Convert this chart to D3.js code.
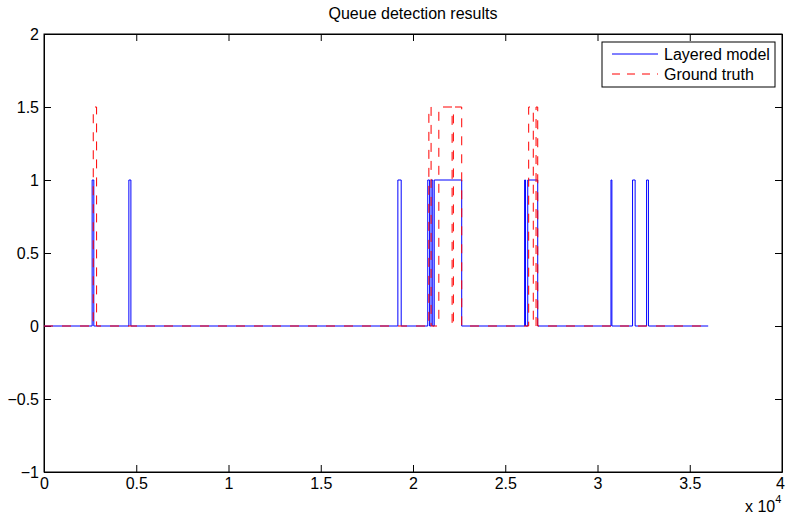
<!DOCTYPE html>
<html>
<head>
<meta charset="utf-8">
<script src="https://cdn.jsdelivr.net/npm/d3@7"></script>
<style>
  body { margin: 0; background: #fff; }
  svg text { font-family: "Liberation Sans", Arial, sans-serif; fill: #000; }
</style>
</head>
<body>
<script>
// pulse intervals (x in units of 1e4)
const modelStarts = [0.261, 0.46, 1.918, 2.08, 2.098, 2.115, 2.605, 2.622, 3.073, 3.19, 3.266];
const modelEnds   = [0.27, 0.471, 1.936, 2.09, 2.107, 2.264, 2.61, 2.676, 3.078, 3.204, 3.276];
const modelLevel  = 1;

const truthStarts = [0.267, 2.086, 2.14, 2.219, 2.627, 2.667];
const truthEnds   = [0.285, 2.098, 2.212, 2.264, 2.652, 2.676];
const truthLevel  = 1.5;

const seriesEnd = 3.6;

const xTicks = [0, 0.5, 1, 1.5, 2, 2.5, 3, 3.5, 4];
const yTicks = [-1, -0.5, 0, 0.5, 1, 1.5, 2];

const W = 786, H = 521;
const margin = { top: 34, right: 4, bottom: 49, left: 44 };
const width = W - margin.left - margin.right,
  height = H - margin.top - margin.bottom;

// turn pulses into a step trace
function steps(starts, ends, level) {
  const pts = [[0, 0]];
  starts.forEach((s, i) => {
    pts.push([s, 0], [s, level], [ends[i], level], [ends[i], 0]);
  });
  pts.push([seriesEnd, 0]);
  return pts;
}

const svg = d3.select("body").append("svg")
  .attr("width", W).attr("height", H);

svg.append("text")
  .attr("x", margin.left + width / 2).attr("y", 19)
  .attr("text-anchor", "middle")
  .style("font-size", "16px")
  .text("Queue detection results");

const g = svg.append("g")
  .attr("transform", "translate(" + margin.left + "," + margin.top + ")");

const x = d3.scaleLinear().domain([0, 4]).range([0, width]);
const y = d3.scaleLinear().domain([-1, 2]).range([height, 0]);

const tickLen = 7;

// axes with inward ticks, MATLAB box style
g.append("g")
  .attr("transform", "translate(0," + height + ")")
  .call(d3.axisBottom(x).tickValues(xTicks).tickSizeInner(-tickLen).tickSizeOuter(0).tickPadding(6)
    .tickFormat(d => d3.format("")(d)))
  .call(a => a.selectAll("text").style("font-size", "16px"))
  .call(a => a.selectAll(".tick text").filter(d => d === 4).attr("dx", -2));

g.append("g")
  .call(d3.axisLeft(y).tickValues(yTicks).tickSizeInner(-tickLen).tickSizeOuter(0).tickPadding(5)
    .tickFormat(d => d < 0 ? "\u2212" + Math.abs(d) : d))
  .call(a => a.selectAll("text").style("font-size", "16px"));

g.append("g")
  .call(d3.axisTop(x).tickValues(xTicks).tickSizeInner(-tickLen).tickSizeOuter(0).tickFormat(""));

g.append("g")
  .attr("transform", "translate(" + width + ",0)")
  .call(d3.axisRight(y).tickValues(yTicks).tickSizeInner(-tickLen).tickSizeOuter(0).tickFormat(""));

g.selectAll(".domain").attr("stroke", "#000");
g.selectAll(".tick line").attr("stroke", "#000");

g.append("rect")
  .attr("width", width).attr("height", height)
  .attr("fill", "none").attr("stroke", "#000");

const line = d3.line().x(d => x(d[0])).y(d => y(d[1]));

g.append("path")
  .datum(steps(modelStarts, modelEnds, modelLevel))
  .attr("fill", "none")
  .attr("stroke", "#0000ff")
  .attr("stroke-width", 1)
  .attr("d", line);

g.append("path")
  .datum(steps(truthStarts, truthEnds, truthLevel))
  .attr("fill", "none")
  .attr("stroke", "#ff0000")
  .attr("stroke-width", 1)
  .attr("stroke-dasharray", "9,9")
  .attr("d", line);

// exponent label
const ex = svg.append("text")
  .attr("x", 745).attr("y", 512)
  .style("font-size", "16px");
ex.append("tspan").text("x 10");
ex.append("tspan").attr("dy", -9).style("font-size", "11px").text("4");

// legend
const lg = svg.append("g").attr("transform", "translate(602,42)");
lg.append("rect")
  .attr("width", 173).attr("height", 45)
  .attr("fill", "#fff").attr("stroke", "#000");
const items = [
  { name: "Layered model", color: "#0000ff", dash: null },
  { name: "Ground truth", color: "#ff0000", dash: "8,7" }
];
items.forEach((it, i) => {
  const yy = 12 + i * 20;
  lg.append("line")
    .attr("x1", 10).attr("x2", 56).attr("y1", yy).attr("y2", yy)
    .attr("stroke", it.color).attr("stroke-dasharray", it.dash);
  lg.append("text")
    .attr("x", 62).attr("y", yy + 6)
    .style("font-size", "16px")
    .text(it.name);
});
</script>
</body>
</html>
